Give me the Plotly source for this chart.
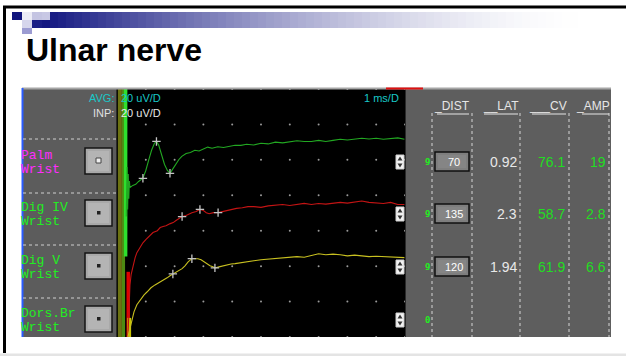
import plotly.graph_objects as go

W, H = 626, 356

# ---------------- data ----------------
title_text = "Ulnar nerve"
sites_top = ["Palm", "Dig IV", "Dig V", "Dors.Br"]
sites_bottom = ["Wrist", "Wrist", "Wrist", "Wrist"]
site_colors = ["#ff2cff", "#22ee22", "#22ee22", "#22ee22"]
headers = ["_DIST", "__LAT", "___CV", "_AMP"]
gain_flags = ["9", "9", "9", "0"]
dist_mm = ["70", "135", "120", ""]
lat_ms = ["0.92", "2.3", "1.94", ""]
cv_ms = ["76.1", "58.7", "61.9", ""]
amp_uv = ["19", "2.8", "6.6", ""]

# traces: time in ms (1 ms/D), amplitude in divisions (20 uV/D) from the bottom
green_t = [0.32, 0.35, 0.37, 0.39, 0.41, 0.43, 0.45, 0.55, 0.65, 0.75, 0.90, 1.00, 1.10, 1.20, 1.30, 1.37,
           1.45, 1.55, 1.65, 1.75, 1.84, 1.95, 2.05, 2.15, 2.25, 2.40, 2.55, 2.70, 2.85, 3.00,
           3.15, 3.30, 3.50, 3.70, 3.90, 4.10, 4.30, 4.50, 4.75, 5.00, 5.25, 5.50, 5.75, 6.00,
           6.25, 6.50, 6.75, 7.00, 7.25, 7.50, 7.75, 8.00, 8.25, 8.50, 8.75, 9.00, 9.25, 9.50,
           9.75, 9.98]
green_d = [3.40, 4.80, 3.60, 4.60, 3.90, 4.40, 4.22, 4.28, 4.31, 4.39, 4.48, 4.70, 4.99, 5.27, 5.47, 5.52,
           5.41, 5.13, 4.87, 4.70, 4.62, 4.76, 4.90, 5.01, 5.10, 5.18, 5.21, 5.27, 5.25, 5.30,
           5.36, 5.33, 5.37, 5.35, 5.38, 5.41, 5.41, 5.44, 5.42, 5.47, 5.45, 5.50, 5.48, 5.50,
           5.54, 5.52, 5.52, 5.55, 5.52, 5.55, 5.58, 5.56, 5.58, 5.61, 5.59, 5.61, 5.58, 5.61,
           5.62, 5.58]

red_t = [0.38, 0.42, 0.45, 0.49, 0.56, 0.63, 0.69, 0.80, 0.90, 1.00, 1.15, 1.25, 1.40, 1.50, 1.60,
         1.70, 1.85, 1.95, 2.05, 2.15, 2.26, 2.40, 2.50, 2.60, 2.75, 2.88, 3.00, 3.10, 3.20, 3.35,
         3.51, 3.65, 3.80, 3.95, 4.15, 4.35, 4.55, 4.75, 5.00, 5.25, 5.50, 5.75, 6.00, 6.25, 6.50,
         6.75, 7.00, 7.25, 7.50, 7.75, 8.00, 8.25, 8.50, 8.75, 9.00, 9.25, 9.50, 9.75, 9.98]
red_d = [0.00, 1.05, 1.47, 1.76, 2.04, 2.24, 2.38, 2.55, 2.66, 2.75, 2.86, 2.95, 3.00, 3.09, 3.12,
         3.14, 3.20, 3.23, 3.29, 3.34, 3.40, 3.43, 3.48, 3.51, 3.54, 3.60, 3.57, 3.51, 3.48, 3.51,
         3.51, 3.54, 3.57, 3.60, 3.63, 3.65, 3.68, 3.68, 3.66, 3.70, 3.71, 3.74, 3.71, 3.74, 3.77,
         3.74, 3.77, 3.75, 3.77, 3.80, 3.78, 3.82, 3.84, 3.80, 3.79, 3.77, 3.80, 3.74, 3.74]

yellow_t = [0.38, 0.45, 0.52, 0.59, 0.69, 0.80, 0.94, 1.04, 1.18, 1.32, 1.46, 1.60, 1.74, 1.84, 1.94,
            2.05, 2.15, 2.26, 2.36, 2.47, 2.60, 2.70, 2.81, 2.92, 3.02, 3.12, 3.23, 3.33, 3.40, 3.54,
            3.68, 3.82, 3.96, 4.10, 4.30, 4.50, 4.75, 5.00, 5.25, 5.50, 5.75, 6.00, 6.25, 6.50, 6.75,
            7.00, 7.25, 7.50, 7.75, 8.00, 8.25, 8.50, 8.75, 9.00, 9.25, 9.50, 9.75, 9.98]
yellow_d = [0.00, 0.25, 0.54, 0.71, 0.91, 1.05, 1.19, 1.27, 1.39, 1.47, 1.53, 1.61, 1.67, 1.73, 1.78,
            1.84, 1.90, 1.93, 2.01, 2.12, 2.21, 2.22, 2.21, 2.18, 2.12, 2.07, 2.01, 1.98, 1.95, 1.98,
            2.01, 2.04, 2.06, 2.07, 2.10, 2.12, 2.15, 2.18, 2.20, 2.21, 2.23, 2.24, 2.27, 2.25, 2.29,
            2.35, 2.32, 2.34, 2.32, 2.29, 2.31, 2.29, 2.27, 2.28, 2.27, 2.25, 2.24, 2.24]

mark_t = [0.90, 1.37, 1.84, 2.26, 2.88, 3.51, 1.94, 2.60, 3.40]
mark_d = [4.48, 5.52, 4.62, 3.40, 3.60, 3.51, 1.78, 2.21, 1.95]

# ---------------- helpers ----------------
def X(px):
    return px / W


def Y(py):
    return 1 - py / H


shapes = []
annotations = []


def rect(x0, y0, x1, y1, fill, line=None, lw=0):
    shapes.append(dict(type="rect", xref="paper", yref="paper",
                       x0=X(x0), x1=X(x1), y0=Y(y1), y1=Y(y0),
                       fillcolor=fill, line=dict(width=lw, color=line or fill),
                       layer="above"))


def hline(x0, x1, y, color, w=1, dash="solid"):
    shapes.append(dict(type="line", xref="paper", yref="paper", x0=X(x0), x1=X(x1),
                       y0=Y(y), y1=Y(y), line=dict(color=color, width=w, dash=dash), layer="above"))


def vline(x, y0, y1, color, w=1, dash="solid"):
    shapes.append(dict(type="line", xref="paper", yref="paper", x0=X(x), x1=X(x),
                       y0=Y(y0), y1=Y(y1), line=dict(color=color, width=w, dash=dash), layer="above"))


def text(px, py, s, size, color, anchor="left", family="Liberation Sans"):
    annotations.append(dict(xref="paper", yref="paper", x=X(px), y=Y(py), text=s,
                            showarrow=False, xanchor=anchor, yanchor="middle",
                            font=dict(size=size, color=color, family=family),
                            borderpad=0, borderwidth=0))


def path(pts, fill):
    d = "M " + " L ".join(f"{X(a)},{Y(b)}" for a, b in pts) + " Z"
    shapes.append(dict(type="path", xref="paper", yref="paper", path=d,
                       fillcolor=fill, line=dict(width=0), layer="above"))


# ---------------- slide decoration ----------------
rect(3, 5.5, 626, 8.5, "#000000")
rect(3, 6, 6, 353, "#000000")
rect(0, 353.5, 626, 356, "#e4e4e4")

# gradient bar
x_start, x_end = 42, 610
n = 71
base = (18, 22, 128)
for i in range(n):
    a = x_start + (x_end - x_start) * i / n
    b = x_start + (x_end - x_start) * (i + 1) / n
    u = (i + 0.5) / n
    f = min(1.0, 1 - (1 - min(u * 1.06, 1.0)) ** 1.6)
    c = tuple(int(base[k] + (255 - base[k]) * f) for k in range(3))
    top = 12 if a >= 50 else 20
    rect(a, top, b + 0.6, 28, "rgb(%d,%d,%d)" % c)
rect(12, 12, 22, 20, "#12167e")
rect(22, 12, 32, 20, "#ececf6")
rect(32, 12, 42, 20, "#c4c4e2")
rect(42, 12, 50, 20, "#c8c8e4")
rect(22, 20, 32, 28, "#d6d6ec")
rect(32, 20, 42, 28, "#1a1e86")
rect(22, 28, 32, 34, "#9c9cd2")

text(26, 50, "<b>" + title_text + "</b>", 32, "#000000")

# ---------------- screenshot panels ----------------
rect(22, 88, 117, 337, "#5c5c5c")
rect(405, 88, 611, 337, "#5e5e5e")
vline(116.5, 88, 337, "#2a2a2a", 1)
vline(405.5, 88, 337, "#2a2a2a", 1)
hline(22, 611, 88.5, "#a6a6a6", 2)
hline(386, 423, 88.5, "#e01010", 2)
vline(22.5, 88, 337, "#2a5cff", 2)

# left panel separators, labels, buttons
for ysep in [139, 193, 245, 298]:
    hline(23, 116, ysep, "#cfcfcf", 1, "dot")
row_y = [148, 200, 253, 306]
for i, y0 in enumerate(row_y):
    text(21, y0 + 7, sites_top[i], 13, site_colors[i], "left", "Liberation Mono")
    text(21, y0 + 21, sites_bottom[i], 13, site_colors[i], "left", "Liberation Mono")
    rect(85, y0, 112, y0 + 26, "#a9a9a9", "#141414", 1.5)
    rect(88, y0 + 3, 109, y0 + 23, "#b4b4b4")
    if i == 0:
        rect(96, y0 + 10, 101, y0 + 15, "#eeeeee", "#444444", 1)
    else:
        rect(97, y0 + 11, 100.5, y0 + 14.5, "#222222")

# header texts on the trace window
text(114, 98, "AVG:", 11, "#18c8c8", "right")
text(121, 98, "20 uV/D", 11, "#18c8c8", "left")
text(114, 113, "INP:", 11, "#e0e0e0", "right")
text(121, 113, "20 uV/D", 11, "#e8e8e8", "left")
text(399, 98, "1 ms/D", 11, "#18c8c8", "right")

# up/down icons
for yc in [162, 214, 267, 320]:
    rect(396, yc - 7, 404, yc + 7, "#f2f2f2", "#cfcfcf", 1)
    path([(397.5, yc - 1.5), (402.5, yc - 1.5), (400, yc - 5.5)], "#333333")
    path([(397.5, yc + 1.5), (402.5, yc + 1.5), (400, yc + 5.5)], "#333333")

# right table
for xv in [432, 472, 520, 569, 609]:
    vline(xv, 113, 337, "#d6d6d6", 1, "dot")
head_right = [469, 518, 566, 609]
head_left = [437, 484, 532, 582]
for i, h in enumerate(headers):
    text(head_right[i] + 1, 106, h, 12, "#e6e6e6", "right")
    hline(head_left[i], head_right[i], 114, "#e6e6e6", 1)

tab_y = [162, 214, 267, 320]
for i, yc in enumerate(tab_y):
    text(427, yc, "<b>" + gain_flags[i] + "</b>", 9, "#22ee22", "center", "DejaVu Sans Mono")
    if dist_mm[i]:
        rect(435, yc - 10, 469, yc + 9, "#7e7e7e", "#101010", 1.5)
        rect(438, yc - 7, 466, yc + 6, "#858585")
        text(454, yc, dist_mm[i], 11, "#ffffff", "center")
    if lat_ms[i]:
        text(517, yc, lat_ms[i], 14, "#e8e8e8", "right")
        text(565, yc, cv_ms[i], 14, "#22dd22", "right")
        text(606, yc, amp_uv[i], 14, "#22dd22", "right")

# ---------------- stimulus artifact in the trace window (data coords) ----------------
art = [
    (0.03, 0.17, 0.0, 7.0, "#6c7212"),
    (0.17, 0.28, 0.0, 7.0, "#4e8a12"),
    (0.24, 0.36, 2.27, 7.0, "#2ee02e"),
    (0.33, 0.45, 0.0, 1.84, "#e00000"),
    (0.36, 0.49, 0.0, 0.54, "#c8c400"),
]
for a, b, c, d, col in art:
    shapes.append(dict(type="rect", xref="x", yref="y", x0=a, x1=b, y0=c, y1=d,
                       fillcolor=col, line=dict(width=0), layer="below"))

# ---------------- figure ----------------
fig = go.Figure()

grid_t = [k for k in range(1, 11)]
grid_d = [k for k in range(0, 8)]
fig.add_trace(go.Scatter(x=[t for t in grid_t for _ in grid_d], y=[d for _ in grid_t for d in grid_d],
                         mode="markers", marker=dict(size=2, color="#9a9a9a"), hoverinfo="skip"))
fig.add_trace(go.Scatter(x=green_t, y=green_d, mode="lines", line=dict(color="#22a822", width=1.1)))
fig.add_trace(go.Scatter(x=red_t, y=red_d, mode="lines", line=dict(color="#c41414", width=1.1)))
fig.add_trace(go.Scatter(x=yellow_t, y=yellow_d, mode="lines", line=dict(color="#c8c020", width=1.1)))
fig.add_trace(go.Scatter(x=mark_t, y=mark_d, mode="markers",
                         marker=dict(symbol="cross-thin", size=6, line=dict(color="#c4c4c4", width=1.3))))

fig.update_layout(
    width=W, height=H, margin=dict(l=0, r=0, t=0, b=0),
    paper_bgcolor="#ffffff", plot_bgcolor="#000000", showlegend=False,
    xaxis=dict(domain=[X(117), X(405)], range=[0, 10], showgrid=False, zeroline=False,
               showticklabels=False, ticks="", showline=False, fixedrange=True),
    yaxis=dict(domain=[Y(337), Y(89)], range=[0, 7], showgrid=False, zeroline=False,
               showticklabels=False, ticks="", showline=False, fixedrange=True),
    shapes=shapes, annotations=annotations,
)

fig.write_html("out.html", config={"displayModeBar": False},
               post_script="document.body.style.margin='0';document.body.style.overflow='hidden';")
